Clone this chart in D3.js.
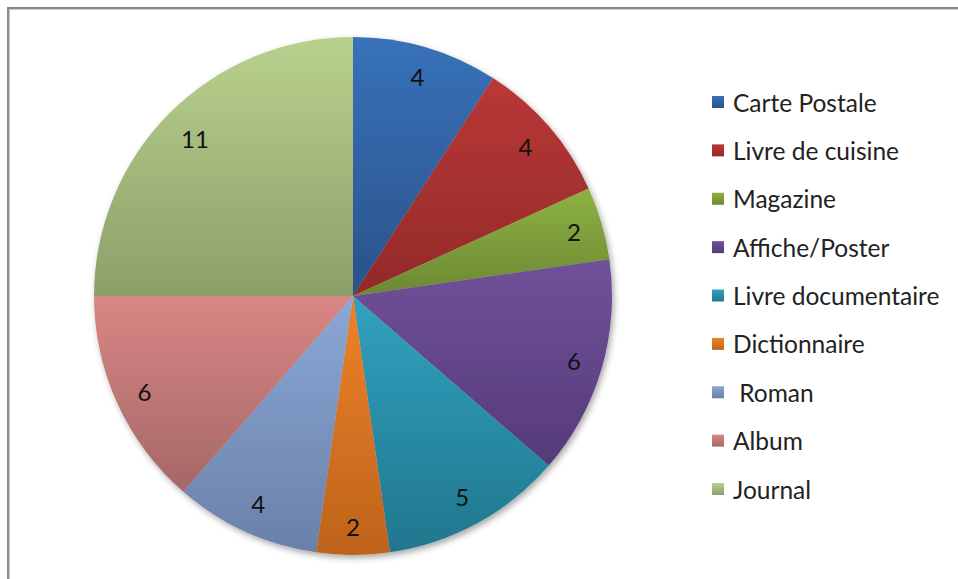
<!DOCTYPE html>
<html><head><meta charset="utf-8">
<script src="https://cdn.jsdelivr.net/npm/d3@7"></script>
<style>html,body{margin:0;padding:0;background:#fff;} svg{display:block;}</style>
</head><body>
<script>
const categories = ["Carte Postale","Livre de cuisine","Magazine","Affiche/Poster","Livre documentaire","Dictionnaire"," Roman","Album","Journal"];
const values = [4,4,2,6,5,2,4,6,11];
const topColors = ["#3872ba","#ba3836","#8db243","#71519a","#31a2c0","#ee8228","#8aa8d6","#d98685","#b9d18d"];
const bottomColors = ["#2a5289","#922a29","#6c8832","#553a79","#21768d","#bd631c","#6a80a9","#a46866","#8c9f69"];

const W = 958, H = 579;
const cx = 353, cy = 296, R = 259;
const font = "Lato, 'Open Sans', sans-serif";

const svg = d3.select("body").append("svg").attr("width", W).attr("height", H);
const defs = svg.append("defs");

categories.forEach((c, i) => {
  const g = defs.append("linearGradient").attr("id", "g" + i)
    .attr("x1", 0).attr("y1", 0).attr("x2", 0).attr("y2", 1);
  g.append("stop").attr("offset", "0%").attr("stop-color", topColors[i]);
  g.append("stop").attr("offset", "100%").attr("stop-color", bottomColors[i]);
});
const f = defs.append("filter").attr("id", "sh").attr("x", "-10%").attr("y", "-10%").attr("width", "130%").attr("height", "130%");
f.append("feDropShadow").attr("dx", 2).attr("dy", 3).attr("stdDeviation", 3).attr("flood-color", "#000").attr("flood-opacity", 0.35);

// frame
svg.append("rect").attr("x", 8).attr("y", 8).attr("width", W + 20).attr("height", H + 20)
  .attr("fill", "none").attr("stroke", "#8a8a8a").attr("stroke-width", 2);
svg.append("rect").attr("x", 9.5).attr("y", 9.5).attr("width", W + 20).attr("height", H + 20)
  .attr("fill", "none").attr("stroke", "#c8c8c8").attr("stroke-width", 1);

const pie = d3.pie().sort(null).value(d => d)(values);
const arc = d3.arc().innerRadius(0).outerRadius(R);

const gp = svg.append("g").attr("transform", `translate(${cx},${cy})`);
gp.append("g").attr("filter", "url(#sh)").selectAll("path").data(pie).join("path")
  .attr("d", arc).attr("fill", (d, i) => `url(#g${i})`);

// labels: placed inside near the outer edge (box corner kept ~20px inside the rim)
gp.selectAll("text.lbl").data(pie).join("text").attr("class", "lbl")
  .attr("transform", d => {
    const a = (d.startAngle + d.endAngle) / 2;
    const hw = String(d.data).length * 6.5, hh = 9;
    const dist = R - 20 - (Math.abs(Math.sin(a)) * hw + Math.abs(Math.cos(a)) * hh);
    return `translate(${Math.sin(a) * dist},${-Math.cos(a) * dist})`;
  })
  .attr("text-anchor", "middle").attr("dominant-baseline", "central")
  .attr("font-family", font).attr("font-size", 24).attr("fill", "#111")
  .text(d => d.data);

// legend
const ly = d3.scalePoint().domain(categories).range([102, 489]);
const lg = svg.append("g");
const items = lg.selectAll("g").data(categories).join("g")
  .attr("transform", d => `translate(712,${ly(d)})`);
items.append("rect").attr("x", 0).attr("y", -6).attr("width", 12).attr("height", 12)
  .attr("fill", (d, i) => `url(#g${i})`);
items.append("text").attr("x", 21).attr("y", 0).attr("dominant-baseline", "central")
  .attr("font-family", font).attr("font-size", 24.5).attr("fill", "#222")
  .style("white-space", "pre")
  .text(d => d);
</script>
</body></html>
